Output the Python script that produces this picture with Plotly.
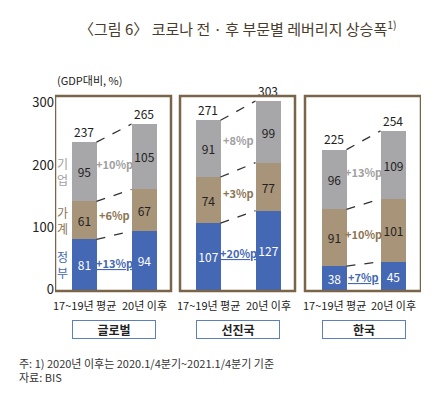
import plotly.graph_objects as go

groups = ["글로벌", "선진국", "한국"]
periods = ["17~19년 평균", "20년 이후"]
gov = [81, 94, 107, 127, 38, 45]
hh = [61, 67, 74, 77, 91, 101]
corp = [95, 105, 91, 99, 96, 109]
totals = [237, 265, 271, 303, 225, 254]
chg_gov = ["+13%p", "+20%p", "+7%p"]
chg_hh = ["+6%p", "+3%p", "+10%p"]
chg_corp = ["+10%p", "+8%p", "+13%p"]

xs = [76, 136, 200, 260, 326, 385]
panels = [(47, 163), (172, 287), (297, 413)]
BW = 25
C_GOV, C_HH, C_CORP = "#4468b3", "#a89478", "#a7a7a9"
FONT = "Noto Sans CJK KR"

fig = go.Figure()
for vals, col, tc in [(gov, C_GOV, "white"), (hh, C_HH, "#222"), (corp, C_CORP, "#222")]:
    fig.add_bar(x=xs, y=vals, marker=dict(color=col, line=dict(width=0)), width=BW,
                text=[str(v) for v in vals], textposition="inside", insidetextanchor="middle",
                textangle=0, constraintext="none",
                textfont=dict(color=tc, size=12, family=FONT), showlegend=False, cliponaxis=False)
fig.update_layout(barmode="stack")

fig.add_scatter(x=xs, y=[t + 4 for t in totals], mode="text", text=[str(t) for t in totals],
                textposition="top center", textfont=dict(size=12, color="#222", family=FONT),
                showlegend=False, cliponaxis=False)

shapes = []
for i, (a, b) in enumerate(panels):
    shapes.append(dict(type="rect", xref="x", yref="paper", x0=a, x1=b, y0=0, y1=1,
                       line=dict(color="#7a6548", width=2.5)))
    l, r = 2 * i, 2 * i + 1
    c1 = [gov[l], gov[l] + hh[l], gov[l] + hh[l] + corp[l]]
    c2 = [gov[r], gov[r] + hh[r], gov[r] + hh[r] + corp[r]]
    for y1, y2 in zip(c1, c2):
        shapes.append(dict(type="line", xref="x", yref="y", x0=xs[l] + BW / 2, x1=xs[r] - BW / 2,
                           y0=y1, y1=y2, line=dict(color="#333", width=1.3, dash="dash")))
    mid = (xs[l] + xs[r]) / 2
    ys = [(gov[l] + gov[r]) / 4,
          ((c1[0] + c1[1]) / 2 + (c2[0] + c2[1]) / 2) / 2,
          ((c1[1] + c1[2]) / 2 + (c2[1] + c2[2]) / 2) / 2]
    for txt, y, col in [(chg_gov[i], ys[0], C_GOV), (chg_hh[i], ys[1], "#8c7553"), (chg_corp[i], ys[2], "#a0a0a2")]:
        t = f"<b>{txt}</b>"
        if col == C_GOV:
            t = f"<b><u>{txt}</u></b>"
        fig.add_annotation(x=mid, y=y, text=t, showarrow=False, font=dict(size=11, color=col, family=FONT))
    for k, p in enumerate(periods):
        fig.add_annotation(x=xs[2 * i + k], y=-0.07, yref="paper", text=p, showarrow=False,
                           yanchor="middle", font=dict(size=11, color="#222", family=FONT))
    fig.add_annotation(x=mid, y=-0.195, yref="paper", text=f"<b>{groups[i]}</b>", showarrow=False,
                       yanchor="middle", width=80, height=15, bordercolor="#5b7fc0", borderwidth=1,
                       font=dict(size=12, color="#222", family=FONT))

for txt, y, col in [("정<br>부", gov[0] / 2, C_GOV), ("가<br>계", gov[0] + hh[0] / 2, "#8c7553"),
                    ("기<br>업", gov[0] + hh[0] + corp[0] / 2, "#a0a0a2")]:
    fig.add_annotation(x=xs[0] - BW / 2 - 2, y=y, xanchor="right", text=txt, showarrow=False,
                       font=dict(size=12, color=col, family=FONT))

fig.add_annotation(x=47, xref="x", y=1.03, yref="paper", text="(GDP대비, %)", showarrow=False,
                   xanchor="left", yanchor="bottom", font=dict(size=11, color="#222", family=FONT))

fig.update_layout(
    width=443, height=409, margin=dict(l=47, r=30, t=88, b=126, autoexpand=False),
    plot_bgcolor="white", paper_bgcolor="white", shapes=shapes, bargap=0,
    xaxis=dict(range=[47, 413], showticklabels=False, showgrid=False, zeroline=False, automargin=False),
    yaxis=dict(range=[-2, 311], tickvals=[0, 100, 200, 300], showgrid=False, zeroline=False,
               ticks="", tickfont=dict(size=13, color="#222", family=FONT), automargin=False,
               ticksuffix="  "),
    font=dict(family=FONT),
)
fig.add_annotation(xref="paper", yref="paper", x=0.5, y=1.35, xanchor="center", yanchor="middle",
                   text="〈그림 6〉 코로나 전 · 후 부문별 레버리지 상승폭<sup>1)</sup>", showarrow=False,
                   font=dict(size=15, color="#4a3c2c", family=FONT))
fig.add_annotation(xref="paper", yref="paper", x=-0.105, y=-0.32, xanchor="left", yanchor="top", align="left",
                   text="주: 1) 2020년 이후는 2020.1/4분기~2021.1/4분기 기준<br>자료: BIS", showarrow=False,
                   font=dict(size=11, color="#333", family=FONT))
fig.write_html("out.html")
